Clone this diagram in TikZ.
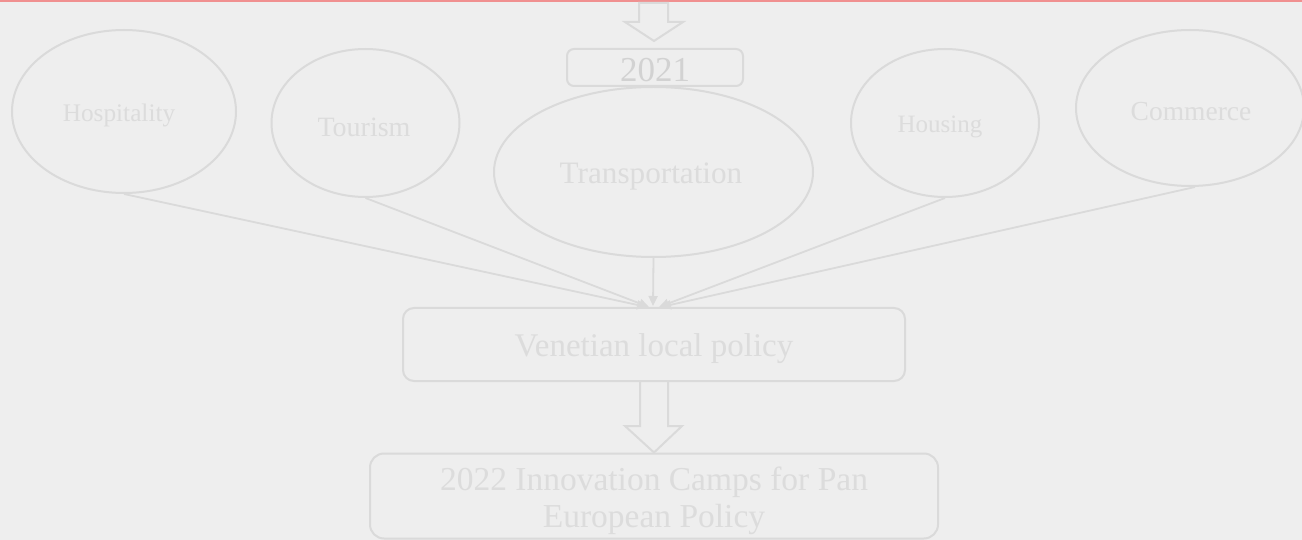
\documentclass[tikz,border=0pt]{standalone}
\usepackage{fontspec}
\setmainfont{Liberation Serif}
\usetikzlibrary{shapes.geometric,arrows.meta,calc}
\definecolor{bg}{HTML}{EEEEEE}
\definecolor{ln}{HTML}{DADADA}
\definecolor{tx}{HTML}{DCDCDC}
\definecolor{txd}{HTML}{D2D2D2}
\definecolor{topred}{HTML}{F09090}
\tikzset{
  topic/.style={ellipse, draw=ln, line width=2pt, inner sep=0pt},
  label/.style={text=tx, inner sep=0pt},
  boxnode/.style={rectangle, draw=ln, line width=2pt, inner sep=0pt},
  feed/.style={draw=ln, line width=1.8pt, -{Triangle[length=10pt,width=9pt]}},
  blockarrow/.style={draw=ln, line width=2pt, line join=miter}
}
\begin{document}
\begin{tikzpicture}[x=1pt,y=-1pt]
\fill[bg] (0,0) rectangle (1302,540);
\useasboundingbox (0,0) rectangle (1302,540);
\draw[topred, line width=1.6pt] (0,0.8) -- (1302,0.8);

% ellipses
\node[topic, minimum width=224pt, minimum height=163pt] (hosp) at (124,111.5) {};
\node[label, font=\fontsize{25.3}{28}\selectfont] (hospT) at (119,115) {Hospitality};
\node[topic, minimum width=188pt, minimum height=148pt] (tour) at (365.5,123) {};
\node[label, font=\fontsize{28}{30}\selectfont] (tourT) at (364,127) {Tourism};
\node[topic, minimum width=319pt, minimum height=170pt] (trans) at (653.5,172) {};
\node[label, font=\fontsize{31.2}{34}\selectfont] (transT) at (651,176) {Transportation};
\node[topic, minimum width=188pt, minimum height=148pt] (hous) at (945,123) {};
\node[label, font=\fontsize{25}{28}\selectfont] (housT) at (940,127) {Housing};
\node[topic, minimum width=228pt, minimum height=156pt] (comm) at (1190,108) {};
\node[label, font=\fontsize{27.5}{30}\selectfont] (commT) at (1191,112) {Commerce};

% boxes
\node[boxnode, rounded corners=7pt, minimum width=176pt, minimum height=37pt] (y2021) at (655,67.5) {};
\node[label, text=txd, font=\fontsize{35}{38}\selectfont] (y2021T) at (655,70) {2021};
\node[boxnode, rounded corners=11pt, minimum width=502pt, minimum height=73pt] (venet) at (654,344.5) {};
\node[label, font=\fontsize{33}{36}\selectfont] (venetT) at (654,349) {Venetian local policy};
\node[boxnode, rounded corners=14pt, minimum width=568pt, minimum height=85pt] (camps) at (654,496) {};
\node[label, align=center, font=\fontsize{33.5}{37}\selectfont] (campsT) at (654,501) {2022 Innovation Camps for Pan\\European Policy};

% top block arrow
\coordinate (tiptop) at ($(y2021.north)+(-1,-7)$);
\draw[blockarrow] ($(tiptop)+(-15,-38)$) -- ($(tiptop)+(14,-38)$) -- ($(tiptop)+(14,-19)$) -- ($(tiptop)+(29,-19)$) -- (tiptop) -- ($(tiptop)+(-29,-19)$) -- ($(tiptop)+(-15,-19)$) -- cycle;

% lower block arrow
\coordinate (tiplow) at (camps.north);
\draw[blockarrow] ($(venet.south)+(-14,0)$) -- ($(venet.south)+(-14,44)$) -- ($(venet.south)+(-29,44)$) -- (tiplow) -- ($(venet.south)+(28,44)$) -- ($(venet.south)+(14,44)$) -- ($(venet.south)+(14,0)$);

% feeders
\draw[feed] (hosp.south) -- ($(venet.north)+(-7,0)$);
\draw[feed] (tour.south) -- ($(venet.north)+(-5,0)$);
\draw[feed] (trans.south) -- ($(venet.north)+(-1,-1)$);
\draw[feed] (hous.south) -- ($(venet.north)+(5,0)$);
\draw[feed] ($(comm.south)+(5,0)$) -- ($(venet.north)+(7,0)$);
\end{tikzpicture}
\end{document}
